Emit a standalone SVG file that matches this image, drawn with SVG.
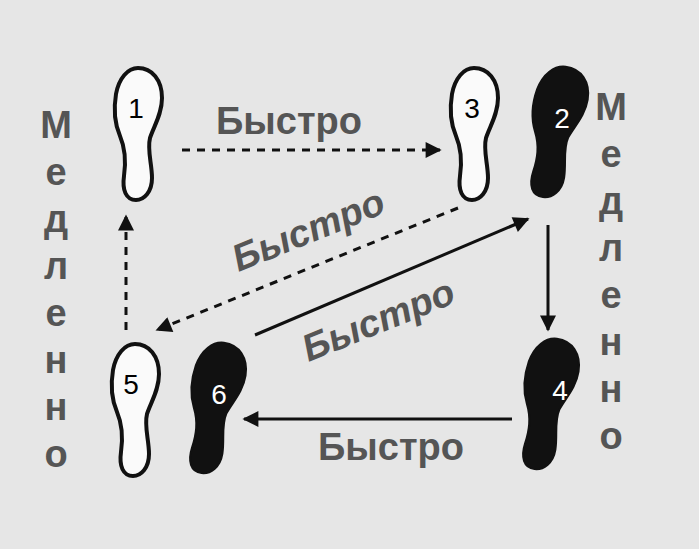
<svg xmlns="http://www.w3.org/2000/svg" width="699" height="549" viewBox="0 0 699 549">
<style>
.w{fill:#fafafa;stroke:#111;stroke-width:4}
.b{fill:#111;stroke:#111;stroke-width:2}
.n{font-family:"Liberation Sans",sans-serif;font-size:28px;text-anchor:middle}
.t{font-family:"Liberation Sans",sans-serif;font-weight:bold;font-size:38px;fill:#555;text-anchor:middle}
.i{font-style:italic}
.v{font-family:"Liberation Sans",sans-serif;font-weight:bold;font-size:38px;fill:#555;text-anchor:middle}
.l{stroke:#111;stroke-width:3;fill:none}
.d{stroke-dasharray:8 7}
</style>
<defs>
<path id="sole" d="M28,2 C42,2 52,14 52,32 C52,48 44,60 40,72 C37,84 42,98 42,112 C42,126 34,134 26,134 C16,134 12,124 14,110 C16,96 16,84 10,70 C4,56 4,40 6,28 C9,12 18,2 28,2 Z"/>
<marker id="ah" viewBox="0 0 10 10" refX="9" refY="5" markerWidth="22" markerHeight="16" orient="auto" markerUnits="userSpaceOnUse"><path d="M0,0 L10,5 L0,10 Z" fill="#111"/></marker>
</defs>
<rect width="699" height="549" fill="#e6e6e6"/>
<g id="f1"><use href="#sole" class="w" transform="translate(110,66)"/><text class="n" x="136" y="118">1</text></g>
<g id="f3"><use href="#sole" class="w" transform="translate(446,66)"/><text class="n" x="472" y="118">3</text></g>
<g id="f2"><use href="#sole" class="b" transform="translate(524,64) scale(1.12,1.0) rotate(8 28 68)"/><text class="n" x="562" y="128" fill="#fff">2</text></g>
<g id="f5"><use href="#sole" class="w" transform="translate(107,342)"/><text class="n" x="131" y="394">5</text></g>
<g id="f6"><use href="#sole" class="b" transform="translate(183,340) scale(1.1,1.0) rotate(8 28 68)"/><text class="n" x="219" y="404" fill="#fff">6</text></g>
<g id="f4"><use href="#sole" class="b" transform="translate(516,336) scale(1.1,1.0) rotate(8 28 68)"/><text class="n" x="560" y="400" fill="#fff">4</text></g>
<g id="connectors">
<line class="l d" x1="182" y1="150" x2="440" y2="150" marker-end="url(#ah)"/>
<line class="l d" x1="458" y1="208" x2="157" y2="330" marker-end="url(#ah)"/>
<line class="l" x1="255" y1="335" x2="528" y2="219" marker-end="url(#ah)"/>
<line class="l d" x1="126" y1="330" x2="126" y2="216" marker-end="url(#ah)"/>
<line class="l" x1="548" y1="225" x2="548" y2="330" marker-end="url(#ah)"/>
<line class="l" x1="512" y1="419" x2="244" y2="419" marker-end="url(#ah)"/>
</g>
<g id="labels">
<text class="t" x="289" y="134">Быстро</text>
<text class="t i" transform="translate(313,242) rotate(-22)">Быстро</text>
<text class="t i" transform="translate(383,332) rotate(-22)">Быстро</text>
<text class="t" x="391" y="460">Быстро</text>
<text class="v" x="56" y="138">М</text><text class="v" x="56" y="185">е</text><text class="v" x="56" y="232">д</text><text class="v" x="56" y="279">л</text><text class="v" x="56" y="326">е</text><text class="v" x="56" y="373">н</text><text class="v" x="56" y="420">н</text><text class="v" x="56" y="467">о</text>
<text class="v" x="611" y="120">М</text><text class="v" x="611" y="167">е</text><text class="v" x="611" y="214">д</text><text class="v" x="611" y="261">л</text><text class="v" x="611" y="308">е</text><text class="v" x="611" y="355">н</text><text class="v" x="611" y="402">н</text><text class="v" x="611" y="449">о</text>
</g>
</svg>
